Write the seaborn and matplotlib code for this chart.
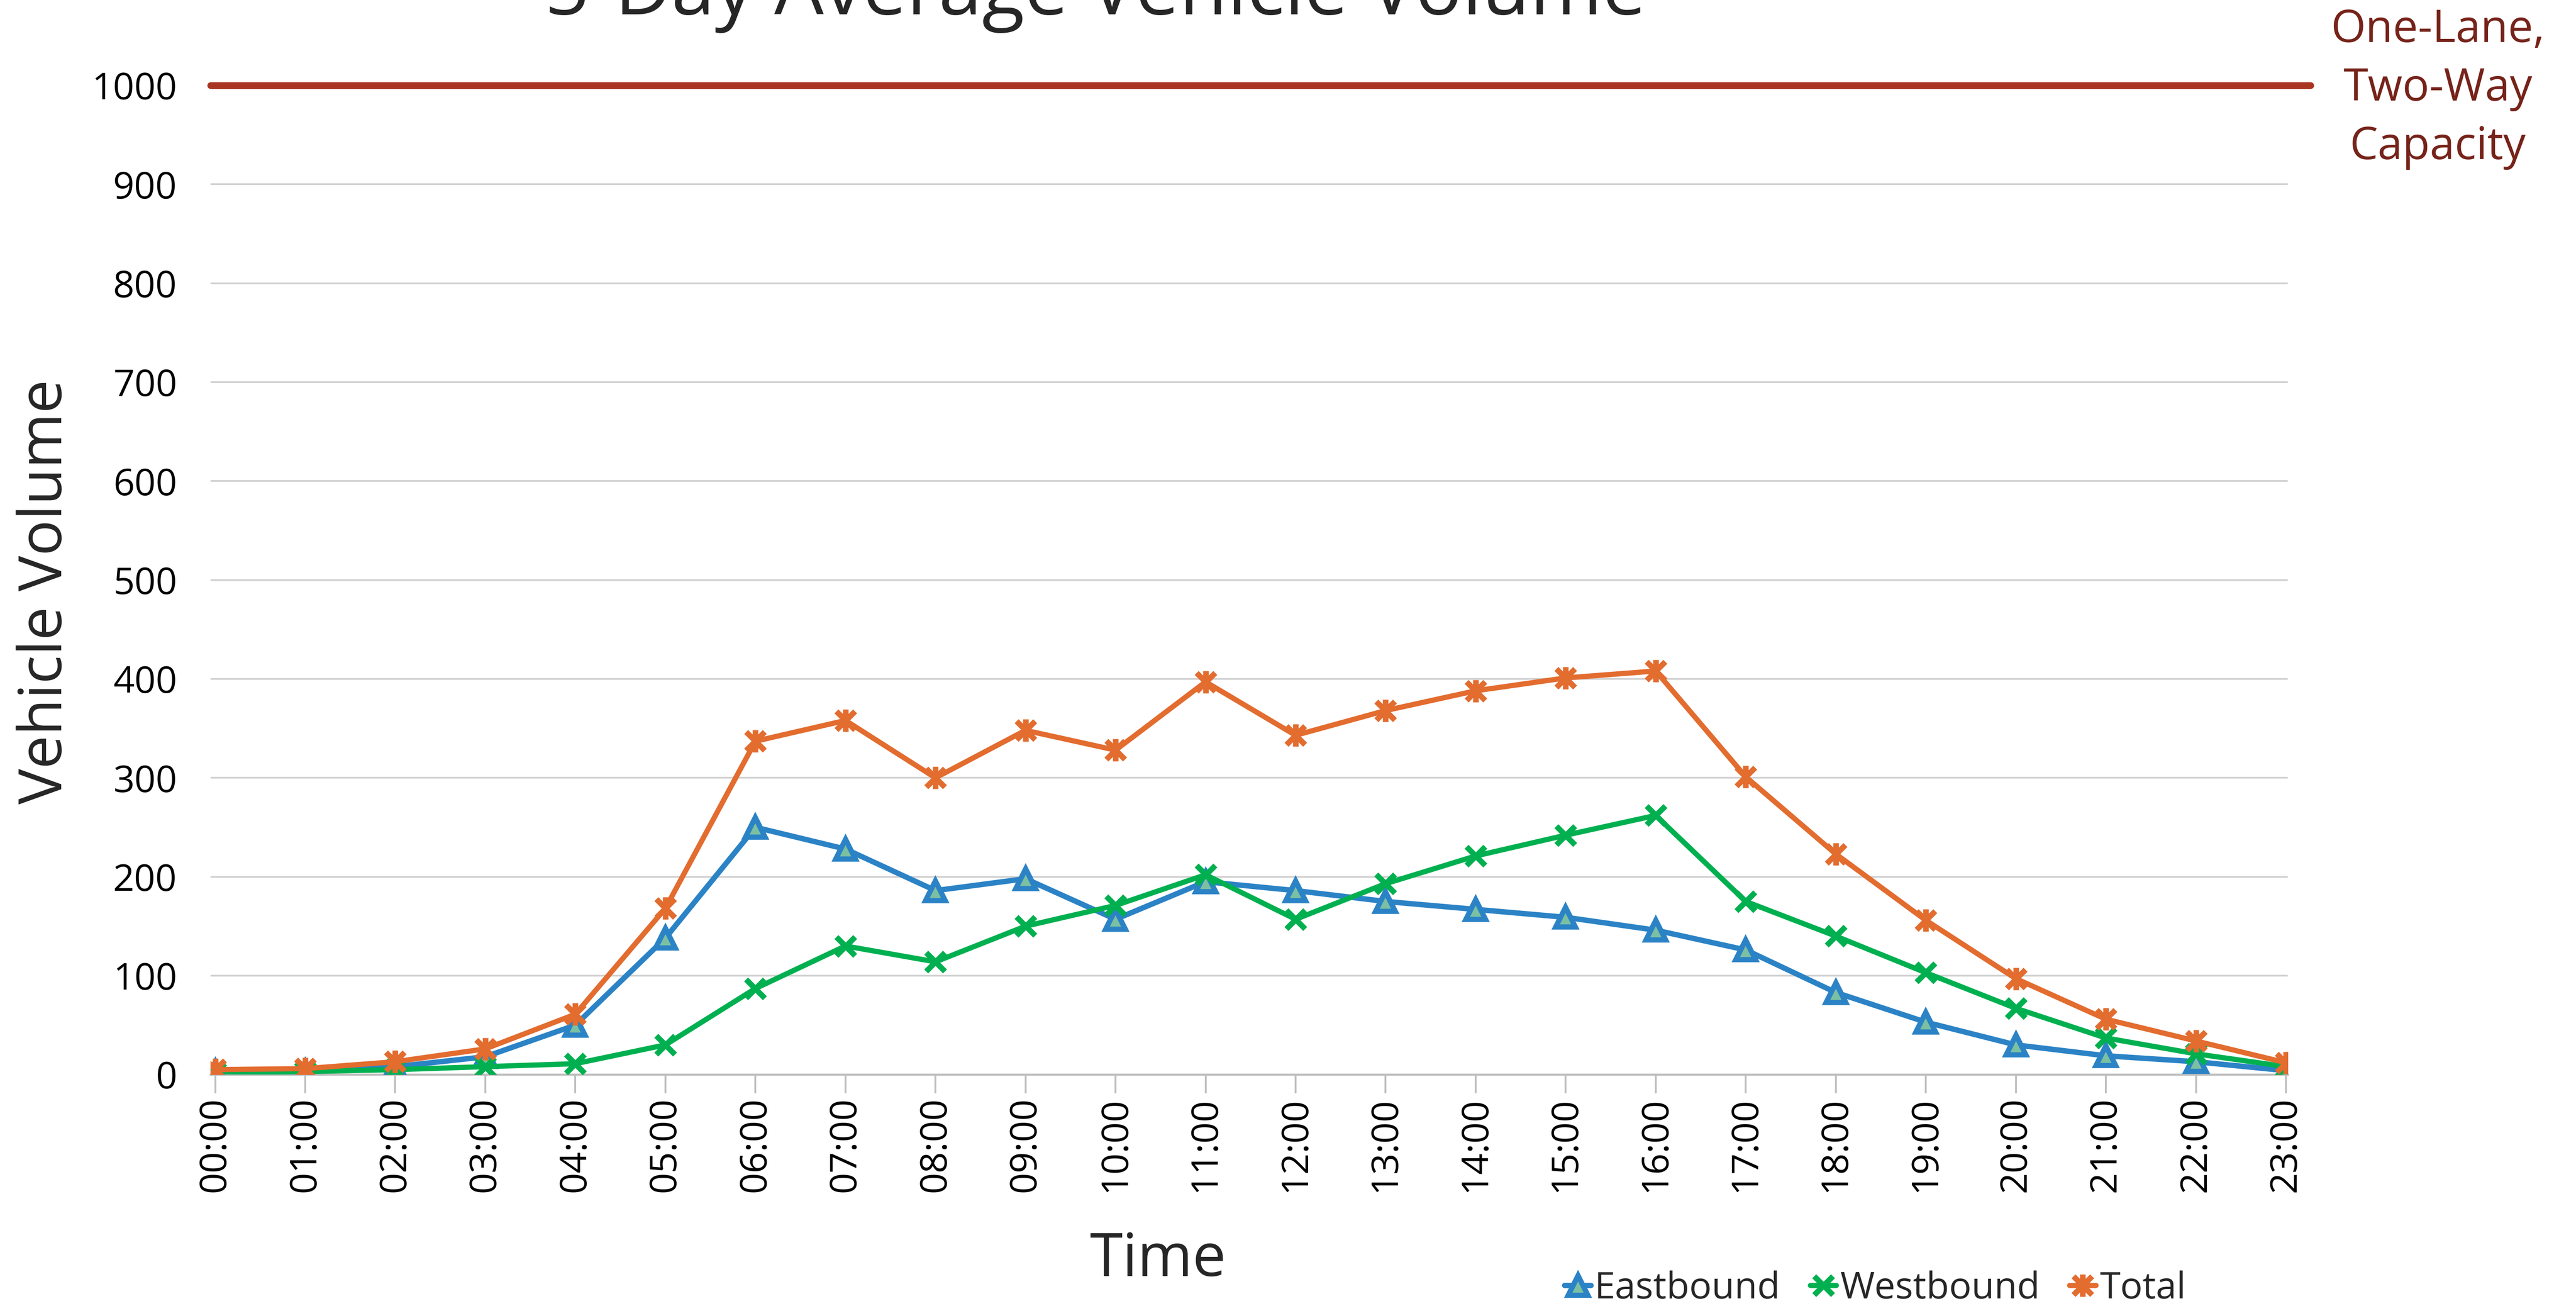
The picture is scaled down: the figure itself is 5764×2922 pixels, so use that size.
import matplotlib
matplotlib.use("Agg")
import matplotlib.pyplot as plt
import seaborn as sns
import pandas as pd
from matplotlib.path import Path

# hourly 5-day averages
hours = ["00:00", "01:00", "02:00", "03:00", "04:00", "05:00", "06:00", "07:00",
         "08:00", "09:00", "10:00", "11:00", "12:00", "13:00", "14:00", "15:00",
         "16:00", "17:00", "18:00", "19:00", "20:00", "21:00", "22:00", "23:00"]
eastbound = [3, 3, 8, 18, 50, 138, 250, 228, 186, 198, 157, 195,
             186, 175, 167, 159, 146, 126, 83, 53, 30, 19, 13, 4]
westbound = [2, 3, 5, 8, 11, 30, 87, 130, 114, 150, 171, 202,
             157, 193, 221, 242, 262, 175, 140, 103, 67, 37, 21, 8]
total = [5, 6, 13, 26, 61, 168, 337, 358, 300, 348, 328, 397,
         343, 368, 388, 401, 408, 301, 223, 156, 97, 56, 34, 12]
capacity = 1000
y_ticks = [0, 100, 200, 300, 400, 500, 600, 700, 800, 900, 1000]

df = pd.DataFrame({"Time": hours, "Eastbound": eastbound,
                   "Westbound": westbound, "Total": total})

sns.set_theme(style="white")
plt.rcParams["font.family"] = ["Open Sans", "DejaVu Sans"]

# excel-like "star" marker: an x with a vertical bar through it
star = Path([(-1, -1), (1, 1), (-1, 1), (1, -1), (0, -1.2), (0, 1.2)],
            [Path.MOVETO, Path.LINETO, Path.MOVETO, Path.LINETO, Path.MOVETO, Path.LINETO])

fig = plt.figure(figsize=(5764 / 300, 2922 / 300), dpi=300)
ax = fig.add_axes([0.0818, 0.1772, 0.8063, 0.7574])

blue, green, orange = "#2B83C6", "#00B050", "#E36C2F"
sns.lineplot(data=df, x="Time", y="Eastbound", ax=ax, color=blue, lw=2.9,
             marker="^", markersize=10.5, markerfacecolor="#7BC0A3",
             markeredgecolor=blue, markeredgewidth=2.8, label="Eastbound", zorder=3)
sns.lineplot(data=df, x="Time", y="Westbound", ax=ax, color=green, lw=2.8,
             marker="x", markersize=10, markeredgecolor=green, markeredgewidth=3.0,
             label="Westbound", zorder=4)
sns.lineplot(data=df, x="Time", y="Total", ax=ax, color=orange, lw=2.8,
             marker=star, markersize=12, markeredgecolor=orange, markeredgewidth=3.0,
             label="Total", zorder=5)

ax.axhline(capacity, xmin=0, xmax=1.011, color="#A93421", lw=3.6, clip_on=False, zorder=6)

ax.set_xlim(-0.05, 23.02)
ax.set_ylim(0, 1000)
ax.set_yticks(y_ticks)
ax.yaxis.grid(True, color="#D0D0D0", lw=0.9)
ax.xaxis.grid(False)
for s in ["top", "right", "left"]:
    ax.spines[s].set_visible(False)
ax.spines["bottom"].set_color("#BFBFBF")
ax.spines["bottom"].set_linewidth(1.1)
ax.tick_params(axis="y", length=0, pad=18, labelsize=20, labelcolor="black")
ax.tick_params(axis="x", direction="out", length=10, width=1.0, color="#BFBFBF",
               pad=2, labelsize=20, labelcolor="black", bottom=True)
plt.setp(ax.get_xticklabels(), rotation=90)
ax.set_xlabel("")
ax.set_ylabel("")

fig.text(0.4253, 0.989, "5-Day Average Vehicle Volume", ha="center", va="baseline",
         fontsize=42, color="#262626")
fig.text(0.4496, 0.035, "Time", ha="center", va="center", fontsize=32, color="#262626")
fig.text(0.0179, 0.547, "Vehicle Volume", ha="center", va="center", rotation=90,
         fontsize=32, color="#262626")
fig.text(0.9464, 0.932, "One-Lane,\nTwo-Way\nCapacity", ha="center", va="center",
         fontsize=24, color="#76231A", linespacing=1.4)

ax.get_legend().remove()
handles, labels = ax.get_legend_handles_labels()
fig.legend(handles, labels, loc="center", bbox_to_anchor=(0.728, 0.013), ncol=3,
           frameon=False, fontsize=20, handlelength=0.7, handletextpad=0.1,
           columnspacing=0.8, borderpad=0)

fig.savefig("out.png", dpi=300)
